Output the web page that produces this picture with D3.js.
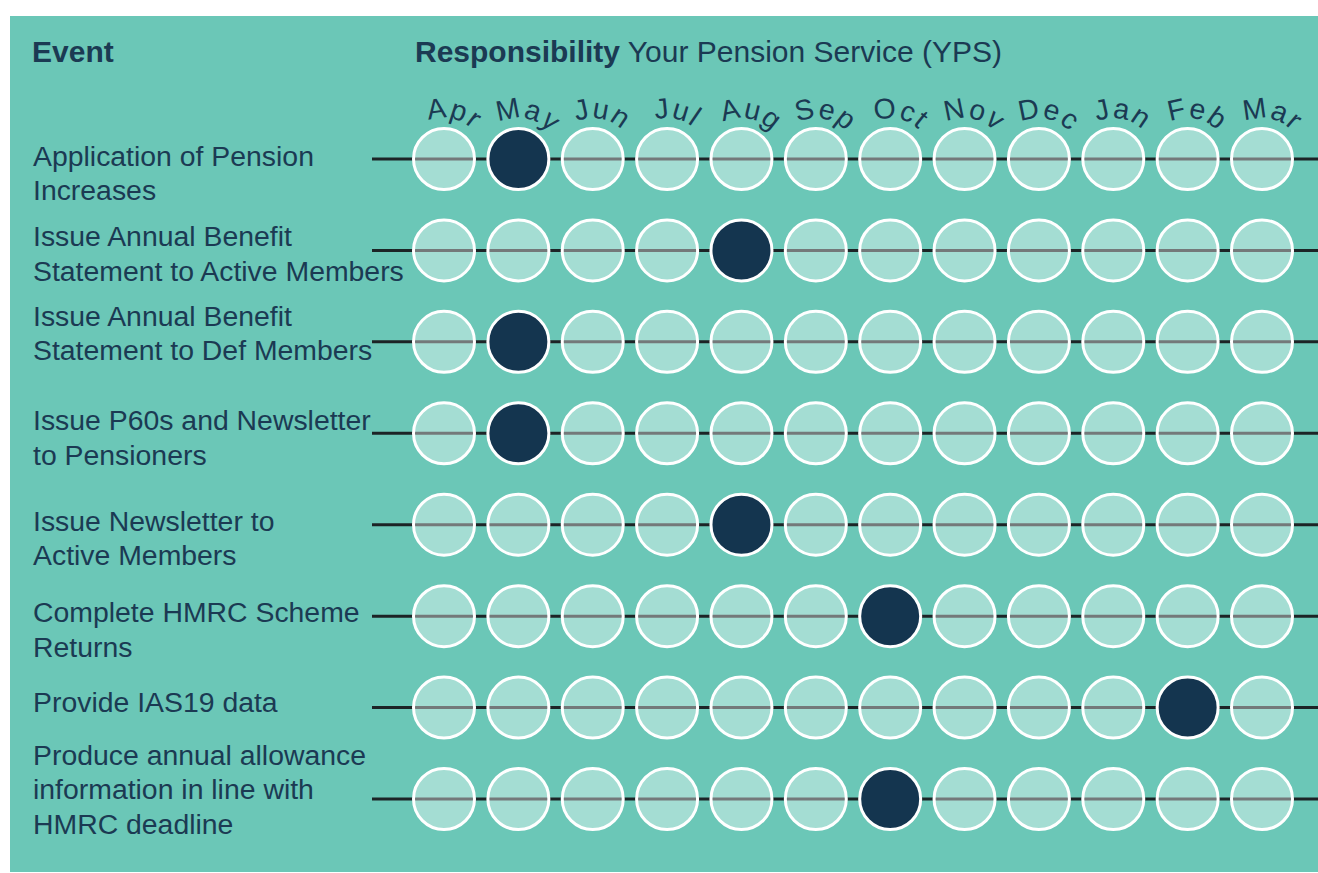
<!DOCTYPE html>
<html><head><meta charset="utf-8">
<script src="https://cdn.jsdelivr.net/npm/d3@7"></script>
<style>
html,body{margin:0;padding:0;background:#fff;}
svg{display:block;}
text{font-family:"Liberation Sans",Arial,sans-serif;fill:#1b3a53;}
</style></head>
<body>
<svg id="chart" width="1318" height="873"></svg>
<script>
// ---- data ----
const months = ["Apr","May","Jun","Jul","Aug","Sep","Oct","Nov","Dec","Jan","Feb","Mar"];
const events = [
  ["Application of Pension","Increases"],
  ["Issue Annual Benefit","Statement to Active Members"],
  ["Issue Annual Benefit","Statement to Def Members"],
  ["Issue P60s and Newsletter","to Pensioners"],
  ["Issue Newsletter to","Active Members"],
  ["Complete HMRC Scheme","Returns"],
  ["Provide IAS19 data"],
  ["Produce annual allowance","information in line with","HMRC deadline"]
];
const eventMonth = ["May","Aug","May","May","Aug","Oct","Feb","Oct"];
const headerLeft = "Event";
const headerBold = "Responsibility";
const headerRest = " Your Pension Service (YPS)";

// ---- layout ----
const W = 1318, H = 873;
const labelDy = [-3,-14,-26,-13,-4,-4,-6,-44]; // first-line offset from row centre
const lineH = 34.5;
const svg = d3.select("#chart");

svg.append("rect").attr("x",10).attr("y",16).attr("width",W-10).attr("height",H-17).attr("fill","#6bc7b7");

const x = d3.scalePoint().domain(months).range([444,1262]);
const y = d3.scalePoint().domain(d3.range(events.length)).range([159,799]);
const r = 30.5;

// headers
svg.append("text").attr("x",32).attr("y",62).attr("font-size",30).attr("font-weight","bold").text(headerLeft);
const ht = svg.append("text").attr("x",415).attr("y",62).attr("font-size",30);
ht.append("tspan").attr("font-weight","bold").text(headerBold);
ht.append("tspan").text(headerRest);

// month labels on arcs above first row
const R = 41;
const defs = svg.append("defs");
months.forEach((m,i)=>{
  const cx = x(m), cy = y(0);
  defs.append("path").attr("id","arc"+i)
    .attr("d",`M${cx-R},${cy} A${R},${R} 0 0 1 ${cx+R},${cy}`);
  svg.append("text").attr("font-size",28.5).attr("letter-spacing",1.2)
    .append("textPath").attr("href","#arc"+i)
    .attr("startOffset", Math.PI*R/2 + 8).attr("text-anchor","middle")
    .text(m);
});

// rows
const rows = svg.selectAll("g.row").data(events).join("g").attr("class","row")
  .attr("transform",(d,i)=>`translate(0,${y(i)})`);

rows.append("line").attr("x1",372).attr("x2",W).attr("y1",0).attr("y2",0)
  .attr("stroke","#1c2426").attr("stroke-width",3);

rows.each(function(d,i){
  const g = d3.select(this);
  g.selectAll("circle").data(months).join("circle")
    .attr("cx",m=>x(m)).attr("cy",0).attr("r",r)
    .attr("fill",m=>m===eventMonth[i]?"#14354f":"#ffffff")
    .attr("fill-opacity",m=>m===eventMonth[i]?1:0.39)
    .attr("stroke","#ffffff").attr("stroke-width",3);
  const t = g.append("text").attr("x",33).attr("font-size",28.4);
  d.forEach((line,k)=>{
    t.append("tspan").attr("x",33).attr("y",labelDy[i]+k*lineH).attr("dy","0.35em").text(line);
  });
});
</script>
</body></html>
